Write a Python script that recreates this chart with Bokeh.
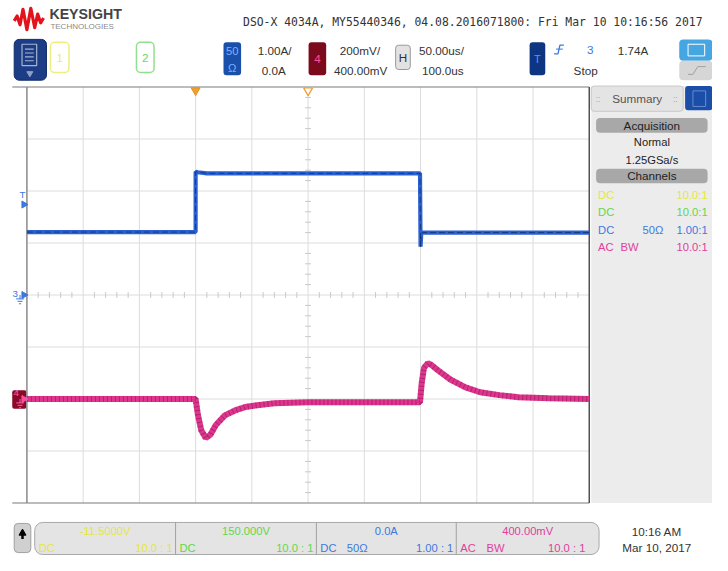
from bokeh.plotting import figure
from bokeh.models import Range1d, BoxAnnotation
from bokeh.core.properties import value
from bokeh.embed import file_html
from bokeh.resources import INLINE

# ---------------- data ----------------
# Channel 3 (current probe, 1.00 A/div, offset 0.0 A), time in microseconds
ch3_time = [-150, 0, 0, 2, 10, 199.5, 200, 200.6, 201.5, 350]
ch3_amps = [1.21, 1.21, 2.37, 2.36, 2.34, 2.34, 0.93, 1.17, 1.20, 1.20]
# Channel 4 (AC coupled, 200 mV/div, offset 400 mV)
ch4_time = [-150, 0, 2, 5, 9, 13, 18, 26, 35, 44, 53, 70, 100, 150, 199.5,
            201, 203, 206.5, 210, 215, 226.5, 240, 253, 270, 287, 314, 350]
ch4_mv = [0, 0, -60, -120, -150, -138, -100, -63, -44, -31, -25, -16, -12, -12, -12,
          60, 120, 138, 130, 112, 75, 45, 26, 15, 7, 3, 0]
trigger_level_a = 1.74
trigger_time_us = 0
delay_us = 100

header_text = "DSO-X 4034A, MY55440346, 04.08.2016071800: Fri Mar 10 10:16:56 2017"
panel_coupling = ["DC", "DC", "DC", "AC"]
panel_extra = ["", "", "50\u03a9", "BW"]
panel_ratio = ["10.0:1", "10.0:1", "1.00:1", "10.0:1"]
bottom_values = ["-11.5000V", "150.000V", "0.0A", "400.00mV"]
bottom_coupling = ["DC", "DC", "DC", "AC"]
bottom_extra = ["", "", "50\u03a9", "BW"]
bottom_ratio = ["10.0 : 1", "10.0 : 1", "1.00 : 1", "10.0 : 1"]
ch_colors = ["#e6e640", "#5fd84a", "#3f78de", "#e0409c"]

# ---------------- geometry (reference pixel space) ----------------
W, H = 728, 571
S = 712 / 728.0
GX0, GX1, GY0, GY1 = 27, 602, 89, 517
DIVX = (GX1 - GX0) / 10.0
DIVY = (GY1 - GY0) / 8.0
GYC = (GY0 + GY1) / 2.0
T_LEFT, US_PER_DIV = -150.0, 50.0
A_PER_DIV, V_PER_DIV, V_OFFSET = 1.0, 200.0, 400.0

p = figure(width=712, height=555, x_range=Range1d(0, W), y_range=Range1d(H, 0),
           output_backend="svg", toolbar_location=None,
           x_axis_location=None, y_axis_location=None, min_border=0)
p.grid.visible = False
p.outline_line_color = None
p.background_fill_color = "white"

px_per_us = DIVX / US_PER_DIV
t0 = T_LEFT - GX0 / px_per_us
t1 = T_LEFT + (W - GX0) / px_per_us
p.extra_x_ranges = {"t": Range1d(t0, t1)}
a_bot = -(H - GYC) / DIVY * A_PER_DIV
a_top = GYC / DIVY * A_PER_DIV
v_bot = V_OFFSET - (H - GYC) / DIVY * V_PER_DIV
v_top = V_OFFSET + GYC / DIVY * V_PER_DIV
p.extra_y_ranges = {"a": Range1d(a_bot, a_top), "v": Range1d(v_bot, v_top)}

FONT = "Liberation Sans"


def fs(n):
    return value(f"{n * S:.1f}px")


def txt(x, y, s, color="#333333", size=12, align="left", font=FONT, style="normal", **kw):
    p.text(x=[x], y=[y], text=[s], text_color=color, text_font=value(font),
           text_font_size=fs(size), text_align=align, text_baseline="middle",
           text_font_style=style, **kw)


def box(l, t, r, b, fill, line=None, radius=0, lw=1.0, level="underlay"):
    p.add_layout(BoxAnnotation(left=l, right=r, top=t, bottom=b, fill_color=fill,
                               fill_alpha=1.0 if fill else 0.0,
                               line_color=line, line_alpha=1.0 if line else 0.0,
                               line_width=lw, border_radius=radius, level=level))


# ---------------- header ----------------
logo_x = [14, 17, 20, 23, 27, 31, 35, 38, 41, 44]
logo_y = [21, 16, 25, 9, 30, 8, 28, 14, 23, 18]
p.line(logo_x, logo_y, line_color="#e3131b", line_width=3.2, line_join="round")
txt(50, 14, "KEYSIGHT", "#444444", 14.5, style="bold")
txt(51, 26.5, "TECHNOLOGIES", "#8a8a8a", 8.2)
txt(248, 22, header_text, "#333333", 11.7, font="DejaVu Sans Mono")

# menu button
box(14, 40, 47, 82, "#1c3c86", "#0f2a66", radius=5)
box(22, 45, 37, 67, None, "#a8b4d0", lw=1.2, level="overlay")
p.segment(x0=[25] * 4, y0=[50, 54, 58, 62], x1=[34] * 4, y1=[50, 54, 58, 62],
          line_color="#a8b4d0", line_width=1.2)
p.scatter([30], [75], marker="inverted_triangle", size=6, color="#8fa0c8")

# channel keys
box(51, 43, 70, 74, "white", "#eeee80", radius=4, lw=1.5)
txt(60.5, 59, "1", "#eeee60", 12, align="center")
box(139, 43, 157, 74, "white", "#90e090", radius=4, lw=1.5)
txt(148, 59, "2", "#6ad85a", 12, align="center")
box(228, 43, 246, 77, "#1a4faa", None, radius=3)
txt(237, 52, "50", "#7fb0ff", 11.5, align="center")
txt(237, 69, "\u03a9", "#7fb0ff", 11.5, align="center")
txt(263, 51, "1.00A/", size=12)
txt(267, 72, "0.0A", size=12)
box(315, 43, 333, 77, "#7a0a1c", None, radius=3)
txt(324, 60, "4", "#ff4fa0", 12, align="center")
txt(347, 51, "200mV/", size=12)
txt(341, 72, "400.00mV", size=12)
box(404, 46, 419, 71, "#e2e2e2", "#9a9a9a", radius=3)
txt(411.5, 58.5, "H", "#333333", 12, align="center")
txt(428, 51, "50.00us/", size=12)
txt(431, 72, "100.0us", size=12)
box(541, 43, 557, 77, "#0d3582", None, radius=3)
txt(549, 60, "T", "#5f90ff", 11.5, align="center")
p.line([566, 570, 572, 576], [55, 55, 46, 46], line_color="#3b78e0", line_width=1.3)
p.segment([568], [50], [575], [50], line_color="#3b78e0", line_width=1.0)
txt(603, 51, "3", "#3b78e0", 12, align="center")
txt(631, 51, "1.74A", size=12)
txt(586, 72, "Stop", size=12)
box(694, 40, 728, 62, "#46a6e2", None, radius=4)
box(703, 45, 720, 57, None, "white", lw=1.0, level="overlay")
box(694, 62, 728, 82, "#d6d6d6", None, radius=4)
p.line([703, 708, 713, 717, 721], [76, 76, 68, 68, 68], line_color="#a0a0a0", line_width=1.0)

# ---------------- graticule ----------------
vx = [GX0 + DIVX * i for i in range(1, 10)]
p.segment(x0=vx, y0=[GY0] * 9, x1=vx, y1=[GY1] * 9, line_color="#dcdcdc", line_width=1)
hy = [GY0 + DIVY * j for j in range(1, 8)]
p.segment(x0=[GX0] * 7, y0=hy, x1=[GX1] * 7, y1=hy, line_color="#dcdcdc", line_width=1)
# center minor ticks
tx = [GX0 + DIVX / 5 * k for k in range(1, 50) if k % 5]
p.segment(x0=tx, y0=[GYC - 3] * len(tx), x1=tx, y1=[GYC + 3] * len(tx), line_color="#c8c8c8")
GXC = (GX0 + GX1) / 2
ty = [GY0 + DIVY / 5 * k for k in range(1, 40) if k % 5]
p.segment(x0=[GXC - 3] * len(ty), y0=ty, x1=[GXC + 3] * len(ty), y1=ty, line_color="#c8c8c8")
# borders
p.segment(x0=[12, 12], y0=[GY0, GY1], x1=[GX1, GX1], y1=[GY0, GY1], line_color="#7a7a7a", line_width=1.2)
p.segment(x0=[GX0], y0=[GY0], x1=[GX0], y1=[GY1], line_color="#8a8a8a", line_width=1.5)
p.segment(x0=[GX1], y0=[GY0], x1=[GX1], y1=[GY1], line_color="#505050", line_width=1.5)

# ---------------- waveforms ----------------
p.line(ch3_time, ch3_amps, x_range_name="t", y_range_name="a",
       line_color="#2a62d4", line_width=4.2)
p.line(ch3_time, ch3_amps, x_range_name="t", y_range_name="a",
       line_color="#10285e", line_width=1.0, line_alpha=0.7, line_dash="6 3")
p.line(ch4_time, ch4_mv, x_range_name="t", y_range_name="v",
       line_color="#e0358f", line_width=6)
p.line(ch4_time, ch4_mv, x_range_name="t", y_range_name="v",
       line_color="#5a0a30", line_width=6, line_alpha=0.35, line_dash="1 3")

# time markers at top
p.scatter([trigger_time_us], [GY0 + 3.5], x_range_name="t", marker="inverted_triangle",
          size=9, fill_color="#f0a030", line_color="#e09020")
p.scatter([delay_us], [GY0 + 3.5], x_range_name="t", marker="inverted_triangle",
          size=9, fill_color="white", line_color="#f0a030", line_width=1.3)

# left markers
p.scatter([24], [trigger_level_a], y_range_name="a", marker="triangle", angle=-1.5708,
          size=7, color="#3b78e0")
p.text(x=[22.5], y=[trigger_level_a + 0.19], y_range_name="a", text=["T"], text_color="#3b78e0",
       text_font=value(FONT), text_font_size=fs(10), text_align="center", text_baseline="middle")
p.scatter([24], [0], y_range_name="a", marker="triangle", angle=-1.5708, size=7, color="#3b78e0")
p.text(x=[15], y=[0.02], y_range_name="a", text=["3"], text_color="#3b78e0",
       text_font=value(FONT), text_font_size=fs(10), text_align="center", text_baseline="middle")
p.segment(x0=[20, 16, 17.5, 19], y0=[303, 307, 309.5, 312], x1=[20, 24, 22.5, 21],
          y1=[307, 307, 309.5, 312], line_color="#3b78e0", line_width=1)
box(12, 401, 26.5, 420, "#8a0a28", None, radius=2)
p.scatter([24], [0], y_range_name="v", marker="triangle", angle=-1.5708, size=7, color="#ff4fa0")
p.text(x=[16], y=[24], y_range_name="v", text=["4"], text_color="#ff5fae",
       text_font=value(FONT), text_font_size=fs(10), text_align="center", text_baseline="middle")
p.segment(x0=[20, 16, 17.5, 19], y0=[410, 414, 416.5, 419], x1=[20, 24, 22.5, 21],
          y1=[414, 414, 416.5, 419], line_color="#ff5fae", line_width=1)

# ---------------- right panel ----------------
box(604, 88, 728, GY1, "#ececec", None)
box(604, 88, 698, 114, "#e4e4e4", "#c8c8c8", radius=3)
txt(651, 101, "Summary", "#555555", 12, align="center")
txt(611, 101, "::", "#aaaaaa", 9, align="center")
txt(690, 101, "::", "#aaaaaa", 9, align="center")
box(700, 88, 728, 113, "#1a4ea8", None, radius=3)
box(708, 93, 721, 109, None, "#6a8ccc", lw=1.0, level="overlay")
box(609, 121, 723, 136, "#a8a8a8", None, radius=4)
txt(666, 128.5, "Acquisition", "#222222", 12, align="center")
txt(666, 146, "Normal", "#222222", 11.5, align="center")
txt(666, 164, "1.25GSa/s", "#222222", 11.5, align="center")
box(609, 173, 723, 188, "#a8a8a8", None, radius=4)
txt(666, 180.5, "Channels", "#222222", 12, align="center")
row_y = [200, 218, 236, 254]
for i in range(4):
    txt(611, row_y[i], panel_coupling[i], ch_colors[i], 11.5)
    if panel_extra[i]:
        txt(667 if i == 2 else 634, row_y[i], panel_extra[i], ch_colors[i], 11.5,
            align="center" if i == 2 else "left")
    txt(723, row_y[i], panel_ratio[i], ch_colors[i], 11.5, align="right")

# ---------------- bottom bar ----------------
box(14, 538, 31, 568, "#d0d0d0", "#a0a0a0", radius=4)
p.scatter([22.5], [548], marker="triangle", size=7, color="black")
p.segment([22.5], [549], [22.5], [554], line_color="black", line_width=2.5)
box(35, 537, 612, 570, "#e4e4e4", "#a8a8a8", radius=8)
sep = [179, 323, 466]
p.segment(x0=sep, y0=[537] * 3, x1=sep, y1=[570] * 3, line_color="#a0a0a0")
left_edges = [35, 179, 323, 466]
right_edges = [179, 323, 466, 612]
for i in range(4):
    l, r = left_edges[i], right_edges[i]
    txt((l + r) / 2, 546, bottom_values[i], ch_colors[i], 11.5, align="center")
    txt(l + 4, 563, bottom_coupling[i], ch_colors[i], 11.5)
    if bottom_extra[i]:
        txt(l + 31, 563, bottom_extra[i], ch_colors[i], 11.5)
    txt(r - 3 if i < 3 else r - 14, 563, bottom_ratio[i], ch_colors[i], 11.5, align="right")
txt(671, 546, "10:16 AM", "#333333", 12, align="center")
txt(671, 563, "Mar 10, 2017", "#333333", 12, align="center")

open("out.html", "w").write(file_html(p, INLINE))
